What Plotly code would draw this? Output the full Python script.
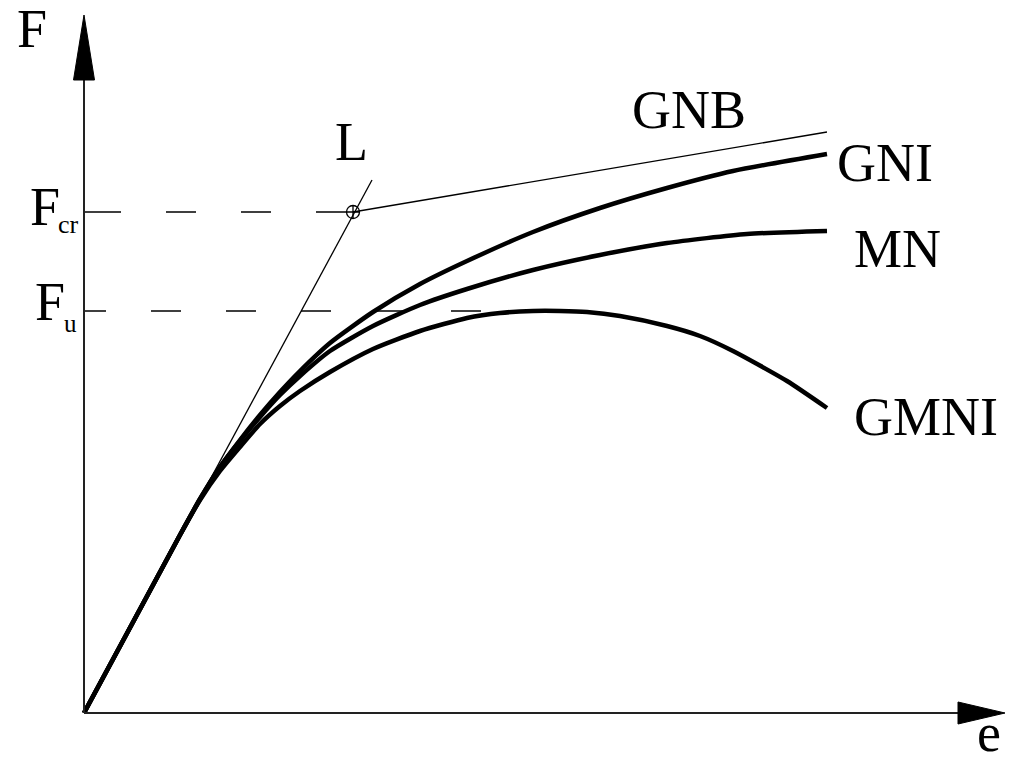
import plotly.graph_objects as go

# Load-displacement curves (schematic units: e = displacement, F = load)
gni_e = [0, 96, 116, 136, 156, 176, 196, 216, 246, 289, 336, 383, 449, 516, 583, 649, 743]
gni_F = [0, 178, 214, 246, 273, 298, 321, 342, 370, 401, 429, 452, 481, 505, 525, 542, 559]

mn_e = [0, 96, 116, 136, 156, 176, 196, 216, 246, 289, 336, 383, 449, 516, 583, 663, 743]
mn_F = [0, 178, 214, 246, 272, 296, 318, 337, 362, 387, 408, 424, 443, 458, 470, 479, 482]

gmni_e = [0, 96, 116, 136, 156, 176, 196, 216, 246, 289, 336, 383, 416, 449, 476, 503,
          536, 583, 616, 649, 703, 743]
gmni_F = [0, 178, 213, 242, 266, 289, 307, 322, 341, 364, 382, 395, 400, 402, 402, 401,
          397, 387, 377, 362, 332, 305]

# Linear (L) line, bifurcation point and post-buckling branch (GNB)
l_e = [0, 288]
l_F = [0, 533]
F_cr = 501
F_u = 402
e_cr = 269
gnb_e = [e_cr, 743]
gnb_F = [F_cr, 581]

# Axis extents
E_MIN, E_MAX = -84, 928
F_MIN, F_MAX = -52, 713
E_ARROW_BASE, E_ARROW_TIP = 874, 921
F_ARROW_BASE, F_ARROW_TIP = 633, 698

fig = go.Figure()

thin = dict(color="black", width=1.3)
thick = dict(color="black", width=4.5, shape="spline", smoothing=0.6)

# Reference load levels
fig.add_trace(go.Scatter(x=[0, e_cr - 6], y=[F_cr, F_cr], mode="lines",
                         line=dict(color="black", width=1.5,
                                   dash="37px,45px,30px,45px,30px,45px,30px")))
fig.add_trace(go.Scatter(x=[0, 397], y=[F_u, F_u], mode="lines",
                         line=dict(color="black", width=1.5,
                                   dash="22px,45px,30px,45px,30px,45px,30px,45px,30px,45px,30px")))

fig.add_trace(go.Scatter(x=l_e, y=l_F, mode="lines", line=thin))
fig.add_trace(go.Scatter(x=gnb_e, y=gnb_F, mode="lines", line=thin))

for e, F in [(gni_e, gni_F), (mn_e, mn_F), (gmni_e, gmni_F)]:
    fig.add_trace(go.Scatter(x=e, y=F, mode="lines", line=thick))

fig.add_trace(go.Scatter(x=[e_cr], y=[F_cr], mode="markers",
                         marker=dict(symbol="circle-cross-open", size=13,
                                     color="black", line=dict(width=1.3))))

# Axes with arrowheads
axis_col = "#222222"
fig.add_shape(type="line", x0=0, y0=0, x1=0, y1=F_ARROW_BASE, line=dict(color=axis_col, width=2))
fig.add_shape(type="line", x0=0, y0=0, x1=E_ARROW_BASE, y1=0, line=dict(color=axis_col, width=2))
fig.add_shape(type="path",
              path=f"M {-10.5},{F_ARROW_BASE} L {10.5},{F_ARROW_BASE} L 0,{F_ARROW_TIP} Z",
              fillcolor="black", line=dict(color="black", width=1))
fig.add_shape(type="path",
              path=f"M {E_ARROW_BASE},{-11} L {E_ARROW_BASE},{11} L {E_ARROW_TIP},0 Z",
              fillcolor="black", line=dict(color="black", width=1))

serif = "Liberation Serif"

def label(text, e, F, size, yanchor="middle"):
    fig.add_annotation(x=e, y=F, text=text, showarrow=False, xanchor="left",
                       yanchor=yanchor, xref="x", yref="y",
                       font=dict(family=serif, size=size, color="black"))

label("F", -69, 684, 54)
label("e", 891, F_MIN, 54, yanchor="bottom")
label("F", -56, 506, 54)
label("cr", -28, 489, 26)
label("F", -51, 411, 54)
label("u", -22, 390, 25)
label("L", 249, 571, 54)
label("GNB", 546, 603, 54)
label("GNI", 751, 550, 54)
label("MN", 768, 464, 54)
label("GMNI", 768, 296, 54)

fig.update_layout(
    width=1012, height=765, margin=dict(l=0, r=0, t=0, b=0),
    paper_bgcolor="white", plot_bgcolor="white", showlegend=False,
    xaxis=dict(range=[E_MIN, E_MAX], visible=False, fixedrange=True),
    yaxis=dict(range=[F_MIN, F_MAX], visible=False, fixedrange=True),
)

fig.write_html("out.html")
